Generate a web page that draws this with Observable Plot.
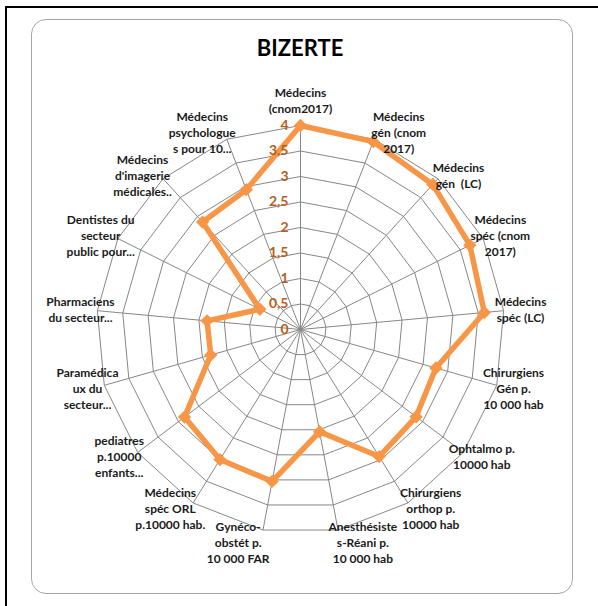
<!DOCTYPE html>
<html><head><meta charset="utf-8">
<script src="https://cdn.jsdelivr.net/npm/d3@7"></script>
<script src="https://cdn.jsdelivr.net/npm/@observablehq/plot@0.6"></script>
<style>
body{margin:0;background:#fff;}
#wrap{position:relative;width:598px;height:606px;overflow:hidden;font-family:Lato,sans-serif;}
#outer{position:absolute;left:5px;top:6px;width:700px;height:700px;border-left:2px solid #000;border-top:2px solid #000;}
#card{position:absolute;left:31px;top:19px;width:540px;height:573px;border:1px solid #a6a6a6;border-radius:15px;}
#title{position:absolute;left:0;width:600px;top:37px;text-align:center;font:bold 22px Lato;line-height:22px;color:#000;}
#chart{position:absolute;left:0;top:0;}
</style></head><body>
<div id="wrap"><div id="outer"></div><div id="card"></div><div id="chart"></div><div id="title">BIZERTE</div></div>
<script>
const axisLabels = [
  "Médecins\n(cnom2017)",
  "Médecins\ngén (cnom\n2017)",
  "Médecins\ngén  (LC)",
  "Médecins\nspéc (cnom\n2017)",
  "Médecins\nspéc (LC)",
  "Chirurgiens\nGén p.\n10 000 hab",
  "Ophtalmo p.\n10000 hab",
  "Chirurgiens\northop p.\n10000 hab",
  "Anesthésiste\ns-Réani p.\n10 000 hab",
  "Gynéco-\nobstét p.\n10 000 FAR",
  "Médecins\nspéc ORL\np.10000 hab.",
  "pediatres\np.10000\nenfants...",
  "Paramédica\nux du\nsecteur...",
  "Pharmaciens\ndu secteur...",
  "Dentistes du\nsecteur\npublic pour...",
  "Médecins\nd'imagerie\nmédicales..",
  "Médecins\npsychologue\ns pour 10..."
];
const values = [4.0, 3.95, 3.85, 3.71, 3.62, 2.76, 2.84, 2.93, 2.04, 3.03, 3.0, 2.85, 1.83, 1.84, 0.89, 2.85, 2.94];
const tickValues = [0, 0.5, 1, 1.5, 2, 2.5, 3, 3.5, 4];
const tickLabels = ["0", "0,5", "1", "1,5", "2", "2,5", "3", "3,5", "4"];

const n = axisLabels.length;
const maxV = 4;
const W = 598, H = 606, cx = 300, cy = 329, unit = 51;
const ang = i => 2 * Math.PI * i / n;

const rings = tickValues.filter(v => v > 0).flatMap(v =>
  d3.range(n + 1).map(i => ({ring: v, x: v * Math.sin(ang(i % n)), y: v * Math.cos(ang(i % n))})));
const spokes = d3.range(n).map(i => ({x: maxV * Math.sin(ang(i)), y: maxV * Math.cos(ang(i))}));
const pts = values.map((v, i) => ({x: v * Math.sin(ang(i)), y: v * Math.cos(ang(i)), v}));
const closed = [...pts, pts[0]];

const labR = 221 / unit, labTopR = 230 / unit;
const labels = axisLabels.map((t, i) => {
  const a = ang(i), s = Math.sin(a), c = Math.cos(a);
  const shift = (6 * Math.PI / 180) * c * Math.abs(c) * Math.sign(s);
  const r = Math.abs(s) < 0.01 ? labTopR : labR;
  const a2 = a + shift;
  return {t, x: r * Math.sin(a2), y: r * Math.cos(a2)};
});
const ticks = tickValues.map((v, i) => ({v, t: tickLabels[i]}));

const orange = "#F79646";
const chart = Plot.plot({
  width: W, height: H,
  margin: 0,
  style: "background: transparent; overflow: visible;",
  x: {domain: [-cx / unit, (W - cx) / unit], range: [0, W], axis: null},
  y: {domain: [-(H - cy) / unit, cy / unit], range: [H, 0], axis: null},
  marks: [
    Plot.line(rings, {x: "x", y: "y", z: "ring", stroke: "#878787", strokeWidth: 1}),
    Plot.link(spokes, {x1: 0, y1: 0, x2: "x", y2: "y", stroke: "#878787", strokeWidth: 1}),
    Plot.line(closed, {x: "x", y: "y", stroke: orange, strokeWidth: 5.5, strokeLinejoin: "round"}),
    Plot.dot(pts, {x: "x", y: "y", symbol: "diamond2", r: 6, fill: orange, stroke: "none"}),
    Plot.text(ticks, {x: 0, y: "v", text: "t", dx: -12, textAnchor: "end", fill: "#B85E1C", fontSize: 14, fontWeight: "bold", fontFamily: "Lato"}),
    Plot.text(labels, {x: "x", y: "y", text: "t", textAnchor: "middle", lineAnchor: "middle", lineHeight: 1.33, fill: "#1a1a1a", fontSize: 12, fontWeight: "bold", fontFamily: "Lato"})
  ]
});
document.getElementById("chart").appendChild(chart);
</script>
</body></html>
